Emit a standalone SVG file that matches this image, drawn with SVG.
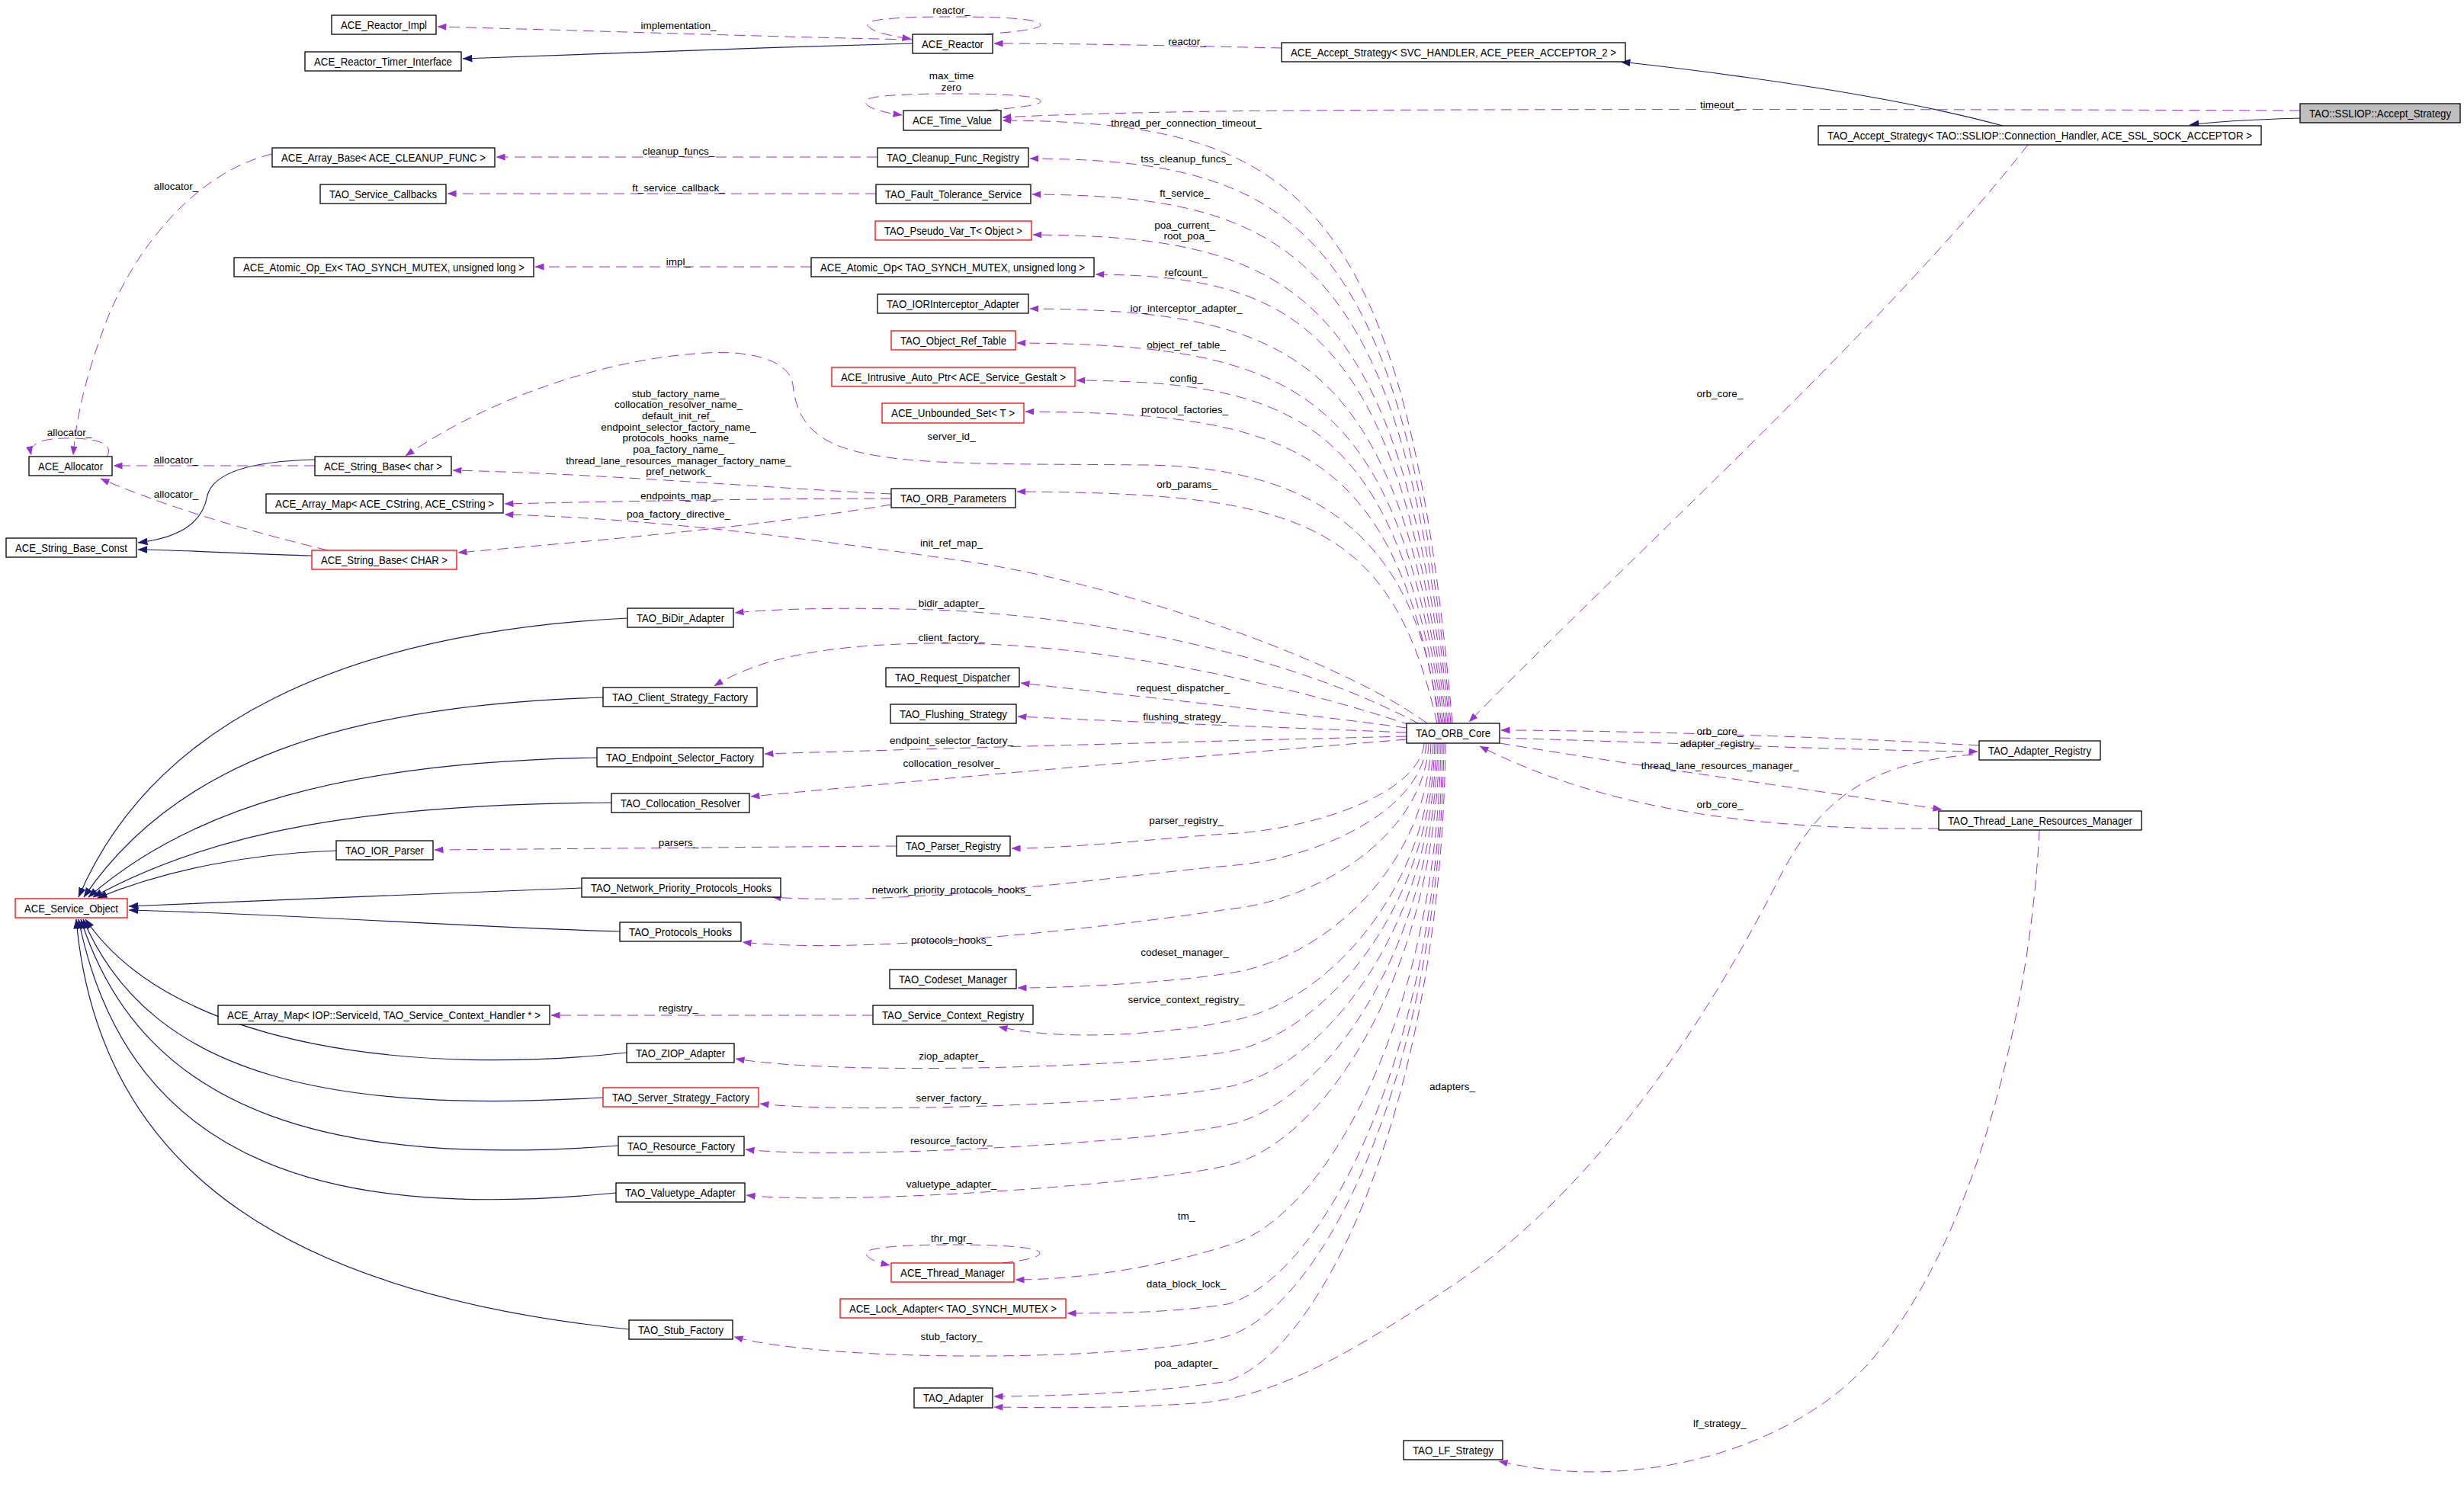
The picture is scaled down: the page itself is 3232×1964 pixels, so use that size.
<svg xmlns="http://www.w3.org/2000/svg" width="3232" height="1964" viewBox="0 0 3232 1964">
<style>
.n rect{fill:#fff;stroke:#000;stroke-width:1.3}
.r rect{stroke:#f00}
.g rect{fill:#bfbfbf}
.n text{font-family:"Liberation Sans",Arial,sans-serif;font-size:14.5px;text-anchor:middle;fill:#000}
.e{fill:none;stroke:#9a32cd;stroke-width:1;stroke-dasharray:14,8;marker-end:url(#ap)}
.i{fill:none;stroke:#191970;stroke-width:1.2;marker-end:url(#an)}
.l{font-family:"Liberation Sans",Arial,sans-serif;font-size:13.5px;text-anchor:middle;fill:#000}
</style>
<defs>
<marker id="ap" viewBox="0 0 12 9" refX="11.5" refY="4.5" markerWidth="12" markerHeight="9" markerUnits="userSpaceOnUse" orient="auto"><path d="M0,0 L12,4.5 L0,9 z" fill="#9a32cd"/></marker>
<marker id="an" viewBox="0 0 12 9" refX="11.5" refY="4.5" markerWidth="13" markerHeight="10" markerUnits="userSpaceOnUse" orient="auto"><path d="M0,0 L12,4.5 L0,9 z" fill="#191970"/></marker>
</defs>
<rect width="3232" height="1964" fill="#fff"/>
<g id="connectors">
<path class="i" d="M1197,57 C1000,62 800,70 607,77"/>
<path class="i" d="M2627,165 C2500,130 2300,100 2126,81"/>
<path class="i" d="M3017,155 C2950,157 2900,160 2872,164"/>
<path class="i" d="M413,603 C330,605 280,620 272,650 C265,690 230,706 181,712"/>
<path class="i" d="M409,729 C330,727 250,722 181,721"/>
<path class="i" d="M823,811 C450,830 200,950 103,1177"/>
<path class="i" d="M791,915 C450,925 230,1000 110,1177"/>
<path class="i" d="M783,994 C450,1000 250,1060 116,1177"/>
<path class="i" d="M802,1053 C480,1055 280,1090 122,1177"/>
<path class="i" d="M441,1116 C330,1120 220,1140 128,1178"/>
<path class="i" d="M763,1165 C600,1170 350,1182 169,1189"/>
<path class="i" d="M813,1222 C600,1216 400,1200 169,1194"/>
<path class="i" d="M822,1381 C560,1410 230,1380 112,1206"/>
<path class="i" d="M791,1440 C450,1460 200,1420 109,1206"/>
<path class="i" d="M811,1503 C450,1530 190,1470 106,1206"/>
<path class="i" d="M808,1565 C450,1600 170,1540 103,1206"/>
<path class="i" d="M825,1744 C400,1700 130,1550 100,1206"/>
<g><path class="e" d="M1197,52 C1000,48 700,38 574,35"/><text class="l" x="890" y="37.5">implementation_</text></g>
<g><path class="e" d="M1290,45 C1330,42 1365,38 1365,33 C1365,25 1320,22 1250,22 C1180,22 1138,25 1138,32 C1138,40 1165,47 1195,51"/><text class="l" x="1248" y="17.5">reactor_</text></g>
<g><path class="e" d="M1681,63 C1550,60 1400,57 1304,57"/><text class="l" x="1557" y="59">reactor_</text></g>
<g><path class="e" d="M1295,145 C1335,141 1365,138 1365,133 C1365,126 1320,123 1250,123 C1180,123 1135,126 1135,133 C1135,141 1155,147 1183,151"/><text class="l" x="1248" y="103.5">max_time</text><text class="l" x="1248" y="118.5">zero</text></g>
<g><path class="e" d="M3017,145 C2500,143 1800,143 1600,146 C1450,148 1350,152 1315,154"/><text class="l" x="2256" y="141.5">timeout_</text></g>
<g><path class="e" d="M1905,949 C1845,253 1700,160 1315,158"/><text class="l" x="1556" y="165.5">thread_per_connection_timeout_</text></g>
<g><path class="e" d="M1151,206 L651,206"/><text class="l" x="890" y="202.5">cleanup_funcs_</text></g>
<g><path class="e" d="M1903,949 C1843,297 1700,210 1351,208"/><text class="l" x="1556" y="212.5">tss_cleanup_funcs_</text></g>
<g><path class="e" d="M1149,254 L587,254"/><text class="l" x="890" y="250.5">ft_service_callback_</text></g>
<g><path class="e" d="M1901,949 C1841,338 1700,257 1354,255"/><text class="l" x="1554" y="257.5">ft_service_</text></g>
<g><path class="e" d="M1899,949 C1839,385 1700,310 1355,308"/><text class="l" x="1554" y="299.5">poa_current_</text><text class="l" x="1557" y="313.5">root_poa_</text></g>
<g><path class="e" d="M1064,350 L702,350"/><text class="l" x="890" y="347.5">impl_</text></g>
<g><path class="e" d="M1897,949 C1837,431 1700,362 1437,360"/><text class="l" x="1556" y="361.5">refcount_</text></g>
<g><path class="e" d="M1895,949 C1835,470 1700,407 1351,405"/><text class="l" x="1556" y="408.5">ior_interceptor_adapter_</text></g>
<g><path class="e" d="M1893,949 C1833,510 1700,452 1334,450"/><text class="l" x="1556" y="456.5">object_ref_table_</text></g>
<g><path class="e" d="M1891,949 C1831,553 1700,501 1412,499"/><text class="l" x="1556" y="500.5">config_</text></g>
<g><path class="e" d="M1889,949 C1829,589 1700,542 1345,540"/><text class="l" x="1554" y="541.5">protocol_factories_</text></g>
<g><path class="e" d="M1887,949 C1860,700 1720,612 1500,610 C1300,608 1170,612 1100,585 C1050,565 1043,530 1040,505 C1035,470 980,460 927,463 C820,468 660,510 532,598"/><text class="l" x="1248" y="576.5">server_id_</text></g>
<g><path class="e" d="M1885,949 C1825,681 1700,647 1334,645"/><text class="l" x="1557" y="639.5">orb_params_</text></g>
<g><path class="e" d="M1169,648 C1000,640 800,622 594,617"/>
<text class="l" x="890" y="520.5">stub_factory_name_</text>
<text class="l" x="890" y="535.2">collocation_resolver_name_</text>
<text class="l" x="890" y="549.9">default_init_ref_</text>
<text class="l" x="890" y="564.6">endpoint_selector_factory_name_</text>
<text class="l" x="890" y="579.3">protocols_hooks_name_</text>
<text class="l" x="890" y="594">poa_factory_name_</text>
<text class="l" x="890" y="608.7">thread_lane_resources_manager_factory_name_</text>
<text class="l" x="890" y="623.4">pref_network_</text></g>
<g><path class="e" d="M1169,654 C1000,654 800,658 662,661"/><text class="l" x="890" y="654.5">endpoints_map_</text></g>
<g><path class="e" d="M1169,662 C1000,690 800,708 601,725"/><text class="l" x="890" y="678.5">poa_factory_directive_</text></g>
<g><path class="e" d="M1872,949 C1750,860 1450,760 1250,734 C1050,705 850,680 662,675"/><text class="l" x="1248" y="716.5">init_ref_map_</text></g>
<g><path class="e" d="M140,599 C146,590 145,576 95,575 C50,574 38,584 41,597"/><text class="l" x="91" y="571.5">allocator_</text></g>
<g><path class="e" d="M357,202 C260,225 180,320 140,420 C110,500 100,550 96,597"/><text class="l" x="231" y="248.5">allocator_</text></g>
<g><path class="e" d="M413,611 L149,611"/><text class="l" x="231" y="607.5">allocator_</text></g>
<g><path class="e" d="M430,722 C340,700 230,670 132,628"/><text class="l" x="231" y="652.5">allocator_</text></g>
<g><path class="e" d="M1862,950 C1750,890 1550,820 1250,801 C1100,795 1000,800 964,804"/><text class="l" x="1248" y="795.5">bidir_adapter_</text></g>
<g><path class="e" d="M1852,952 C1700,900 1450,845 1250,844 C1100,843 1000,860 937,900"/><text class="l" x="1248" y="840.5">client_factory_</text></g>
<g><path class="e" d="M1845,955 C1700,935 1500,915 1339,896"/><text class="l" x="1552" y="906.5">request_dispatcher_</text></g>
<g><path class="e" d="M1845,961 C1700,955 1500,948 1335,940"/><text class="l" x="1554" y="944.5">flushing_strategy_</text></g>
<g><path class="e" d="M1845,966 C1600,972 1300,980 1003,989"/><text class="l" x="1248" y="975.5">endpoint_selector_factory_</text></g>
<g><path class="e" d="M1845,970 C1600,990 1300,1015 985,1045"/><text class="l" x="1248" y="1005.5">collocation_resolver_</text></g>
<g><path class="e" d="M1176,1110 C900,1112 700,1114 570,1115"/><text class="l" x="890" y="1109.5">parsers_</text></g>
<g><path class="e" d="M1868,975 C1863,1040 1726,1088 1610,1094 C1552,1097 1412,1113 1327,1113"/><text class="l" x="1556" y="1080.5">parser_registry_</text></g>
<g><path class="e" d="M1871,975 C1866,1064 1727,1128 1610,1136 C1480,1147 1200,1190 1013,1177"/><text class="l" x="1248" y="1171.5">network_priority_protocols_hooks_</text></g>
<g><path class="e" d="M1874,975 C1869,1095 1729,1182 1610,1193 C1500,1210 1150,1255 974,1236"/><text class="l" x="1248" y="1237.5">protocols_hooks_</text></g>
<g><path class="e" d="M1877,975 C1872,1141 1730,1262 1610,1277 C1550,1287 1420,1296 1335,1296"/><text class="l" x="1554" y="1253.5">codeset_manager_</text></g>
<g><path class="e" d="M1145,1332 L723,1332"/><text class="l" x="890" y="1326.5">registry_</text></g>
<g><path class="e" d="M1880,975 C1875,1176 1731,1322 1610,1340 C1540,1355 1400,1368 1310,1347"/><text class="l" x="1556" y="1315.5">service_context_registry_</text></g>
<g><path class="e" d="M1882,975 C1877,1198 1732,1360 1610,1380 C1500,1400 1100,1412 965,1389"/><text class="l" x="1248" y="1389.5">ziop_adapter_</text></g>
<g><path class="e" d="M1884,975 C1879,1223 1733,1403 1610,1426 C1500,1448 1120,1462 997,1448"/><text class="l" x="1248" y="1444.5">server_factory_</text></g>
<g><path class="e" d="M1886,975 C1881,1251 1734,1451 1610,1476 C1500,1500 1100,1522 978,1508"/><text class="l" x="1248" y="1500.5">resource_factory_</text></g>
<g><path class="e" d="M1888,975 C1883,1280 1735,1501 1610,1529 C1500,1555 1100,1582 979,1568"/><text class="l" x="1248" y="1557.5">valuetype_adapter_</text></g>
<g><path class="e" d="M1315,1657 C1340,1654 1364,1650 1364,1644 C1364,1637 1320,1633 1250,1633 C1180,1633 1136,1637 1136,1644 C1136,1651 1150,1656 1167,1660"/><text class="l" x="1248" y="1628.5">thr_mgr_</text></g>
<g><path class="e" d="M1890,975 C1885,1337 1736,1601 1610,1634 C1530,1660 1420,1679 1332,1679"/><text class="l" x="1556" y="1599.5">tm_</text></g>
<g><path class="e" d="M1892,975 C1887,1380 1737,1674 1610,1711 C1540,1722 1460,1723 1400,1723"/><text class="l" x="1556" y="1688.5">data_block_lock_</text></g>
<g><path class="e" d="M1894,975 C1889,1403 1738,1714 1610,1753 C1500,1785 1100,1790 963,1754"/><text class="l" x="1248" y="1757.5">stub_factory_</text></g>
<g><path class="e" d="M1896,975 C1891,1435 1739,1770 1610,1812 C1530,1826 1390,1832 1304,1832"/><text class="l" x="1556" y="1792.5">poa_adapter_</text></g>
<g><path class="e" d="M2660,190 C2480,420 2150,720 1927,947"/><text class="l" x="2256" y="520.5">orb_core_</text></g>
<g><path class="e" d="M2596,978 C2400,966 2100,958 1969,958"/><text class="l" x="2256" y="963.5">orb_core_</text></g>
<g><path class="e" d="M1967,968 C2200,975 2450,985 2594,986"/><text class="l" x="2256" y="979.5">adapter_registry_</text></g>
<g><path class="e" d="M1967,975 C2150,1005 2400,1040 2547,1062"/><text class="l" x="2256" y="1008.5">thread_lane_resources_manager_</text></g>
<g><path class="e" d="M2543,1087 C2300,1090 2100,1060 1941,979"/><text class="l" x="2256" y="1059.5">orb_core_</text></g>
<g><path class="e" d="M2588,990 C2450,1000 2390,1050 2340,1140 C2250,1320 2100,1560 1900,1690 C1780,1770 1680,1830 1580,1840 C1480,1848 1380,1847 1304,1846"/><text class="l" x="1905" y="1429.5">adapters_</text></g>
<g><path class="e" d="M2675,1089 C2665,1300 2600,1620 2450,1790 C2350,1900 2150,1960 1966,1917"/><text class="l" x="2256" y="1871.5">lf_strategy_</text></g>
</g>
<g id="n1" class="n"><rect x="435" y="20" width="137" height="25"/><text x="503.5" y="37.5" textLength="113" lengthAdjust="spacingAndGlyphs">ACE_Reactor_Impl</text></g>
<g id="n2" class="n"><rect x="400" y="68" width="205" height="25"/><text x="502.5" y="85.5" textLength="181" lengthAdjust="spacingAndGlyphs">ACE_Reactor_Timer_Interface</text></g>
<g id="n3" class="n"><rect x="1197" y="45" width="105" height="25"/><text x="1249.5" y="62.5" textLength="81" lengthAdjust="spacingAndGlyphs">ACE_Reactor</text></g>
<g id="n4" class="n"><rect x="1681" y="56" width="451" height="25"/><text x="1906.5" y="73.5" textLength="427" lengthAdjust="spacingAndGlyphs">ACE_Accept_Strategy&lt; SVC_HANDLER, ACE_PEER_ACCEPTOR_2 &gt;</text></g>
<g id="n5" class="n"><rect x="1185" y="145" width="128" height="26"/><text x="1249" y="163" textLength="104" lengthAdjust="spacingAndGlyphs">ACE_Time_Value</text></g>
<g id="n6" class="n g"><rect x="3017" y="136" width="210" height="25"/><text x="3122" y="153.5" textLength="186" lengthAdjust="spacingAndGlyphs">TAO::SSLIOP::Accept_Strategy</text></g>
<g id="n7" class="n"><rect x="2385" y="165" width="581" height="25"/><text x="2675.5" y="182.5" textLength="557" lengthAdjust="spacingAndGlyphs">TAO_Accept_Strategy&lt; TAO::SSLIOP::Connection_Handler, ACE_SSL_SOCK_ACCEPTOR &gt;</text></g>
<g id="n8" class="n"><rect x="357" y="194" width="292" height="25"/><text x="503" y="211.5" textLength="268" lengthAdjust="spacingAndGlyphs">ACE_Array_Base&lt; ACE_CLEANUP_FUNC &gt;</text></g>
<g id="n9" class="n"><rect x="1151" y="194" width="198" height="25"/><text x="1250" y="211.5" textLength="174" lengthAdjust="spacingAndGlyphs">TAO_Cleanup_Func_Registry</text></g>
<g id="n10" class="n"><rect x="420" y="242" width="165" height="25"/><text x="502.5" y="259.5" textLength="141" lengthAdjust="spacingAndGlyphs">TAO_Service_Callbacks</text></g>
<g id="n11" class="n"><rect x="1149" y="242" width="203" height="25"/><text x="1250.5" y="259.5" textLength="179" lengthAdjust="spacingAndGlyphs">TAO_Fault_Tolerance_Service</text></g>
<g id="n12" class="n r"><rect x="1148" y="290" width="205" height="25"/><text x="1250.5" y="307.5" textLength="181" lengthAdjust="spacingAndGlyphs">TAO_Pseudo_Var_T&lt; Object &gt;</text></g>
<g id="n13" class="n"><rect x="307" y="338" width="393" height="25"/><text x="503.5" y="355.5" textLength="369" lengthAdjust="spacingAndGlyphs">ACE_Atomic_Op_Ex&lt; TAO_SYNCH_MUTEX, unsigned long &gt;</text></g>
<g id="n14" class="n"><rect x="1064" y="338" width="371" height="25"/><text x="1249.5" y="355.5" textLength="347" lengthAdjust="spacingAndGlyphs">ACE_Atomic_Op&lt; TAO_SYNCH_MUTEX, unsigned long &gt;</text></g>
<g id="n15" class="n"><rect x="1151" y="386" width="198" height="25"/><text x="1250" y="403.5" textLength="174" lengthAdjust="spacingAndGlyphs">TAO_IORInterceptor_Adapter</text></g>
<g id="n16" class="n r"><rect x="1169" y="434" width="163" height="25"/><text x="1250.5" y="451.5" textLength="139" lengthAdjust="spacingAndGlyphs">TAO_Object_Ref_Table</text></g>
<g id="n17" class="n r"><rect x="1091" y="482" width="319" height="25"/><text x="1250.5" y="499.5" textLength="295" lengthAdjust="spacingAndGlyphs">ACE_Intrusive_Auto_Ptr&lt; ACE_Service_Gestalt &gt;</text></g>
<g id="n18" class="n r"><rect x="1157" y="529" width="186" height="26"/><text x="1250" y="547" textLength="162" lengthAdjust="spacingAndGlyphs">ACE_Unbounded_Set&lt; T &gt;</text></g>
<g id="n19" class="n"><rect x="38" y="599" width="109" height="25"/><text x="92.5" y="616.5" textLength="85" lengthAdjust="spacingAndGlyphs">ACE_Allocator</text></g>
<g id="n20" class="n"><rect x="413" y="599" width="179" height="25"/><text x="502.5" y="616.5" textLength="155" lengthAdjust="spacingAndGlyphs">ACE_String_Base&lt; char &gt;</text></g>
<g id="n21" class="n"><rect x="1169" y="641" width="163" height="25"/><text x="1250.5" y="658.5" textLength="139" lengthAdjust="spacingAndGlyphs">TAO_ORB_Parameters</text></g>
<g id="n22" class="n"><rect x="349" y="648" width="311" height="25"/><text x="504.5" y="665.5" textLength="287" lengthAdjust="spacingAndGlyphs">ACE_Array_Map&lt; ACE_CString, ACE_CString &gt;</text></g>
<g id="n23" class="n"><rect x="8" y="706" width="171" height="25"/><text x="93.5" y="723.5" textLength="147" lengthAdjust="spacingAndGlyphs">ACE_String_Base_Const</text></g>
<g id="n24" class="n r"><rect x="409" y="722" width="190" height="25"/><text x="504" y="739.5" textLength="166" lengthAdjust="spacingAndGlyphs">ACE_String_Base&lt; CHAR &gt;</text></g>
<g id="n25" class="n"><rect x="823" y="798" width="139" height="25"/><text x="892.5" y="815.5" textLength="115" lengthAdjust="spacingAndGlyphs">TAO_BiDir_Adapter</text></g>
<g id="n26" class="n"><rect x="1162" y="876" width="175" height="25"/><text x="1249.5" y="893.5" textLength="151" lengthAdjust="spacingAndGlyphs">TAO_Request_Dispatcher</text></g>
<g id="n27" class="n"><rect x="791" y="902" width="202" height="25"/><text x="892" y="919.5" textLength="178" lengthAdjust="spacingAndGlyphs">TAO_Client_Strategy_Factory</text></g>
<g id="n28" class="n"><rect x="1168" y="924" width="165" height="25"/><text x="1250.5" y="941.5" textLength="141" lengthAdjust="spacingAndGlyphs">TAO_Flushing_Strategy</text></g>
<g id="n29" class="n"><rect x="1845" y="949" width="122" height="26"/><text x="1906" y="967" textLength="98" lengthAdjust="spacingAndGlyphs">TAO_ORB_Core</text></g>
<g id="n30" class="n"><rect x="2596" y="972" width="159" height="25"/><text x="2675.5" y="989.5" textLength="135" lengthAdjust="spacingAndGlyphs">TAO_Adapter_Registry</text></g>
<g id="n31" class="n"><rect x="783" y="981" width="218" height="25"/><text x="892" y="998.5" textLength="194" lengthAdjust="spacingAndGlyphs">TAO_Endpoint_Selector_Factory</text></g>
<g id="n32" class="n"><rect x="802" y="1041" width="181" height="25"/><text x="892.5" y="1058.5" textLength="157" lengthAdjust="spacingAndGlyphs">TAO_Collocation_Resolver</text></g>
<g id="n33" class="n"><rect x="2543" y="1064" width="266" height="25"/><text x="2676" y="1081.5" textLength="242" lengthAdjust="spacingAndGlyphs">TAO_Thread_Lane_Resources_Manager</text></g>
<g id="n34" class="n"><rect x="1176" y="1097" width="149" height="26"/><text x="1250.5" y="1115" textLength="125" lengthAdjust="spacingAndGlyphs">TAO_Parser_Registry</text></g>
<g id="n35" class="n"><rect x="441" y="1103" width="127" height="25"/><text x="504.5" y="1120.5" textLength="103" lengthAdjust="spacingAndGlyphs">TAO_IOR_Parser</text></g>
<g id="n36" class="n"><rect x="763" y="1152" width="261" height="25"/><text x="893.5" y="1169.5" textLength="237" lengthAdjust="spacingAndGlyphs">TAO_Network_Priority_Protocols_Hooks</text></g>
<g id="n37" class="n r"><rect x="20" y="1179" width="147" height="25"/><text x="93.5" y="1196.5" textLength="123" lengthAdjust="spacingAndGlyphs">ACE_Service_Object</text></g>
<g id="n38" class="n"><rect x="813" y="1210" width="159" height="25"/><text x="892.5" y="1227.5" textLength="135" lengthAdjust="spacingAndGlyphs">TAO_Protocols_Hooks</text></g>
<g id="n39" class="n"><rect x="1167" y="1272" width="166" height="25"/><text x="1250" y="1289.5" textLength="142" lengthAdjust="spacingAndGlyphs">TAO_Codeset_Manager</text></g>
<g id="n40" class="n"><rect x="286" y="1319" width="435" height="25"/><text x="503.5" y="1336.5" textLength="411" lengthAdjust="spacingAndGlyphs">ACE_Array_Map&lt; IOP::ServiceId, TAO_Service_Context_Handler * &gt;</text></g>
<g id="n41" class="n"><rect x="1145" y="1319" width="210" height="25"/><text x="1250" y="1336.5" textLength="186" lengthAdjust="spacingAndGlyphs">TAO_Service_Context_Registry</text></g>
<g id="n42" class="n"><rect x="822" y="1369" width="141" height="25"/><text x="892.5" y="1386.5" textLength="117" lengthAdjust="spacingAndGlyphs">TAO_ZIOP_Adapter</text></g>
<g id="n43" class="n r"><rect x="791" y="1427" width="204" height="25"/><text x="893" y="1444.5" textLength="180" lengthAdjust="spacingAndGlyphs">TAO_Server_Strategy_Factory</text></g>
<g id="n44" class="n"><rect x="811" y="1491" width="165" height="25"/><text x="893.5" y="1508.5" textLength="141" lengthAdjust="spacingAndGlyphs">TAO_Resource_Factory</text></g>
<g id="n45" class="n"><rect x="808" y="1552" width="169" height="25"/><text x="892.5" y="1569.5" textLength="145" lengthAdjust="spacingAndGlyphs">TAO_Valuetype_Adapter</text></g>
<g id="n46" class="n r"><rect x="1169" y="1657" width="161" height="25"/><text x="1249.5" y="1674.5" textLength="137" lengthAdjust="spacingAndGlyphs">ACE_Thread_Manager</text></g>
<g id="n47" class="n r"><rect x="1102" y="1704" width="296" height="25"/><text x="1250" y="1721.5" textLength="272" lengthAdjust="spacingAndGlyphs">ACE_Lock_Adapter&lt; TAO_SYNCH_MUTEX &gt;</text></g>
<g id="n48" class="n"><rect x="825" y="1732" width="136" height="25"/><text x="893" y="1749.5" textLength="112" lengthAdjust="spacingAndGlyphs">TAO_Stub_Factory</text></g>
<g id="n49" class="n"><rect x="1199" y="1821" width="103" height="26"/><text x="1250.5" y="1839" textLength="79" lengthAdjust="spacingAndGlyphs">TAO_Adapter</text></g>
<g id="n50" class="n"><rect x="1841" y="1890" width="130" height="25"/><text x="1906" y="1907.5" textLength="106" lengthAdjust="spacingAndGlyphs">TAO_LF_Strategy</text></g>
</svg>
